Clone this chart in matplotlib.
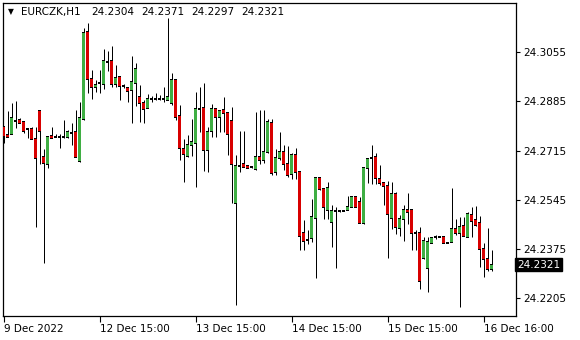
import matplotlib
matplotlib.use("Agg")
import matplotlib.pyplot as plt
import numpy as np

symbol = "EURCZK,H1"

# hourly OHLC
opens = [
    24.2796, 24.2769, 24.2772, 24.2817, 24.2820, 24.2814, 24.2789, 24.2789, 24.2755, 24.2852,
    24.2693, 24.2668, 24.2765, 24.2762, 24.2762, 24.2762, 24.2762, 24.2776, 24.2779, 24.2679,
    24.2824, 24.3124, 24.2962, 24.2934, 24.2948, 24.2945, 24.3021, 24.3024, 24.2945, 24.2969,
    24.2938, 24.2931, 24.2924, 24.2948, 24.2900, 24.2879, 24.2862, 24.2893, 24.2893, 24.2893,
    24.2893, 24.2890, 24.2879, 24.2959, 24.2834, 24.2720, 24.2696, 24.2734, 24.2741, 24.2858,
    24.2862, 24.2717, 24.2782, 24.2858, 24.2831, 24.2855, 24.2845, 24.2817, 24.2534, 24.2662,
    24.2668, 24.2662, 24.2658, 24.2651, 24.2693, 24.2682, 24.2710, 24.2810, 24.2641, 24.2689,
    24.2710, 24.2668, 24.2634, 24.2700, 24.2641, 24.2430, 24.2406, 24.2413, 24.2482, 24.2620,
    24.2582, 24.2509, 24.2468, 24.2506, 24.2506, 24.2506, 24.2509, 24.2520, 24.2554, 24.2537,
    24.2465, 24.2655, 24.2689, 24.2693, 24.2617, 24.2603, 24.2592, 24.2482, 24.2565, 24.2447,
    24.2478, 24.2509, 24.2509, 24.2430, 24.2430, 24.2344, 24.2309, 24.2395, 24.2416, 24.2416,
    24.2416, 24.2395, 24.2399, 24.2444, 24.2430, 24.2454, 24.2416, 24.2492, 24.2475, 24.2465,
    24.2375, 24.2340, 24.2304,
]
highs = [
    24.2796, 24.2852, 24.2879, 24.2886, 24.2827, 24.2814, 24.2789, 24.2796, 24.2796, 24.2852,
    24.2720, 24.2762, 24.2796, 24.2772, 24.2772, 24.2820, 24.2786, 24.2810, 24.2855, 24.2883,
    24.3138, 24.3156, 24.2993, 24.2959, 24.2993, 24.3066, 24.3059, 24.3076, 24.3010, 24.2972,
    24.2945, 24.2931, 24.3042, 24.3017, 24.2941, 24.2890, 24.2910, 24.2903, 24.2914, 24.2907,
    24.2934, 24.3173, 24.2983, 24.2962, 24.2872, 24.2755, 24.2769, 24.2824, 24.2917, 24.2934,
    24.2948, 24.2796, 24.2876, 24.2858, 24.2852, 24.2900, 24.2845, 24.2865, 24.2700, 24.2782,
    24.2782, 24.2662, 24.2658, 24.2848, 24.2855, 24.2855, 24.2824, 24.2824, 24.2720, 24.2779,
    24.2734, 24.2731, 24.2706, 24.2724, 24.2641, 24.2475, 24.2440, 24.2548, 24.2620, 24.2620,
    24.2586, 24.2606, 24.2527, 24.2520, 24.2506, 24.2506, 24.2558, 24.2558, 24.2554, 24.2554,
    24.2658, 24.2689, 24.2734, 24.2706, 24.2665, 24.2603, 24.2610, 24.2606, 24.2572, 24.2492,
    24.2527, 24.2568, 24.2513, 24.2440, 24.2451, 24.2416, 24.2416, 24.2413, 24.2423, 24.2416,
    24.2416, 24.2395, 24.2586, 24.2478, 24.2485, 24.2485, 24.2503, 24.2520, 24.2523, 24.2489,
    24.2395, 24.2447, 24.2371,
]
lows = [
    24.2741, 24.2762, 24.2772, 24.2793, 24.2810, 24.2776, 24.2758, 24.2755, 24.2451, 24.2668,
    24.2326, 24.2655, 24.2758, 24.2762, 24.2724, 24.2758, 24.2758, 24.2734, 24.2693, 24.2675,
    24.2820, 24.2914, 24.2893, 24.2917, 24.2914, 24.2928, 24.2990, 24.2934, 24.2934, 24.2890,
    24.2931, 24.2883, 24.2810, 24.2869, 24.2814, 24.2810, 24.2862, 24.2883, 24.2890, 24.2890,
    24.2883, 24.2890, 24.2872, 24.2820, 24.2682, 24.2606, 24.2693, 24.2696, 24.2589, 24.2779,
    24.2644, 24.2641, 24.2762, 24.2762, 24.2779, 24.2779, 24.2700, 24.2534, 24.2181, 24.2641,
    24.2658, 24.2655, 24.2655, 24.2648, 24.2668, 24.2672, 24.2706, 24.2630, 24.2630, 24.2682,
    24.2648, 24.2624, 24.2617, 24.2617, 24.2371, 24.2371, 24.2392, 24.2399, 24.2275, 24.2579,
    24.2478, 24.2478, 24.2382, 24.2309, 24.2503, 24.2506, 24.2509, 24.2520, 24.2520, 24.2465,
    24.2461, 24.2603, 24.2599, 24.2599, 24.2596, 24.2527, 24.2344, 24.2444, 24.2427, 24.2420,
    24.2402, 24.2461, 24.2371, 24.2371, 24.2237, 24.2340, 24.2226, 24.2395, 24.2409, 24.2416,
    24.2395, 24.2395, 24.2399, 24.2423, 24.2174, 24.2420, 24.2416, 24.2416, 24.2454, 24.2313,
    24.2278, 24.2299, 24.2297,
]
closes = [
    24.2765, 24.2762, 24.2827, 24.2818, 24.2810, 24.2782, 24.2789, 24.2755, 24.2689, 24.2782,
    24.2672, 24.2762, 24.2758, 24.2762, 24.2762, 24.2762, 24.2779, 24.2776, 24.2693, 24.2827,
    24.3121, 24.2962, 24.2934, 24.2941, 24.2948, 24.3024, 24.3021, 24.2945, 24.2966, 24.2938,
    24.2938, 24.2921, 24.2952, 24.2997, 24.2879, 24.2858, 24.2893, 24.2893, 24.2893, 24.2893,
    24.2893, 24.2900, 24.2959, 24.2831, 24.2724, 24.2703, 24.2734, 24.2744, 24.2858, 24.2858,
    24.2717, 24.2779, 24.2858, 24.2831, 24.2852, 24.2845, 24.2772, 24.2668, 24.2662, 24.2662,
    24.2658, 24.2655, 24.2658, 24.2693, 24.2682, 24.2710, 24.2814, 24.2637, 24.2689, 24.2710,
    24.2668, 24.2630, 24.2700, 24.2641, 24.2420, 24.2402, 24.2406, 24.2485, 24.2620, 24.2582,
    24.2520, 24.2586, 24.2506, 24.2506, 24.2506, 24.2506, 24.2520, 24.2554, 24.2520, 24.2465,
    24.2655, 24.2686, 24.2689, 24.2620, 24.2603, 24.2592, 24.2496, 24.2565, 24.2451, 24.2478,
    24.2509, 24.2503, 24.2430, 24.2430, 24.2264, 24.2402, 24.2399, 24.2413, 24.2416, 24.2416,
    24.2395, 24.2395, 24.2444, 24.2430, 24.2451, 24.2420, 24.2496, 24.2471, 24.2458, 24.2375,
    24.2340, 24.2306, 24.2321,
]

price_ticks = [24.2205, 24.2375, 24.2545, 24.2715, 24.2885, 24.3055]
time_tick_pos = [0, 24, 48, 72, 96, 120]
time_tick_labels = ["9 Dec 2022", "12 Dec 15:00", "13 Dec 15:00",
                    "14 Dec 15:00", "15 Dec 15:00", "16 Dec 16:00"]

up_color = "#3fae43"
down_color = "#d80000"

o = np.array(opens)
h = np.array(highs)
l = np.array(lows)
c = np.array(closes)
x = np.arange(len(o))

W, H = 580, 340
fig = plt.figure(figsize=(W / 100, H / 100), dpi=100)
ax = fig.add_axes([3 / W, 24 / H, 513 / W, 313 / H])

ylo, yhi = 24.2143, 24.3225
ax.set_xlim(-0.125, -0.125 + 513 / 4)
ax.set_ylim(ylo, yhi)
px = (yhi - ylo) / 313  # one pixel in price units

body_lo = np.minimum(o, c)
body_hi = np.maximum(o, c)

# wicks, 1 px
ax.vlines(x, l, h, color="black", linewidth=0.72, zorder=1)
# black body frame, 3 px wide
ax.bar(x, body_hi - body_lo + px, bottom=body_lo - px / 2, width=0.75,
       color="black", linewidth=0, antialiased=False, snap=False, zorder=2)
# coloured core, 1 px wide
colors = np.where(c >= o, up_color, down_color)
core_h = np.clip(body_hi - body_lo - px, 0, None)
ax.bar(x, core_h, bottom=body_lo + px / 2, width=0.3,
       color=colors, linewidth=0, antialiased=False, snap=False, zorder=3)

for s in ax.spines.values():
    s.set_linewidth(0.9)
    s.set_color("black")

ax.yaxis.tick_right()
ax.set_yticks(price_ticks)
ax.set_yticklabels([f"{p:.4f}" for p in price_ticks])
ax.tick_params(axis="y", direction="out", length=3, width=0.8, pad=2, labelsize=7.5)

ax.set_xticks(time_tick_pos)
ax.set_xticklabels(time_tick_labels)
ax.tick_params(axis="x", direction="out", length=4, width=0.8, pad=1.5, labelsize=7.5)
for lab in ax.get_xticklabels():
    lab.set_horizontalalignment("left")

# current price marker on the right scale
ax.text(1.002, closes[-1], f"{closes[-1]:.4f}", transform=ax.get_yaxis_transform(),
        color="white", fontsize=7.5, va="center", ha="left",
        bbox=dict(boxstyle="square,pad=0.18", facecolor="black", edgecolor="black"))

# header line with symbol and last bar OHLC
ax.text(5 / 513, 1 - 9 / 313, "▼", transform=ax.transAxes, fontsize=5.5,
        va="center", ha="left")
ax.text(18 / 513, 1 - 9 / 313, symbol, transform=ax.transAxes, fontsize=7.5,
        va="center", ha="left")
last_bar = [opens[-1], highs[-1], lows[-1], closes[-1]]
for k, v in enumerate(last_bar):
    ax.text((88 + 50 * k) / 513, 1 - 9 / 313, f"{v:.4f}", transform=ax.transAxes,
            fontsize=7.5, va="center", ha="left")

fig.savefig("out.png", dpi=100, facecolor="white")
